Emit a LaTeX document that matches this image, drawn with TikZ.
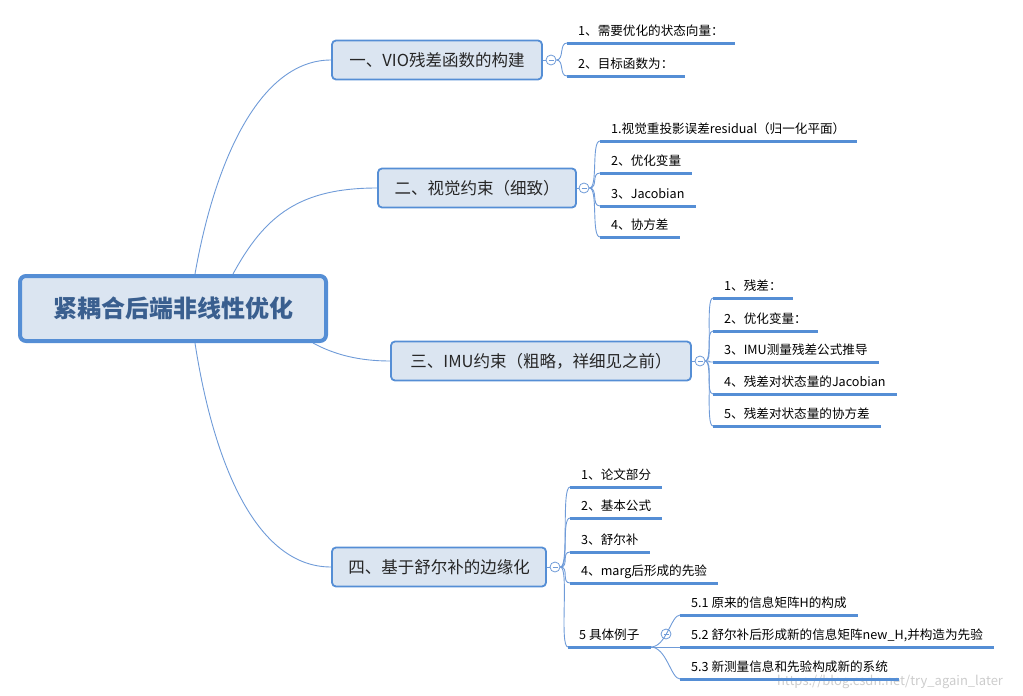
\documentclass[tikz,border=0pt]{standalone}
\usepackage{fontspec}
\setmainfont{Noto Sans CJK SC}

\definecolor{mapblue}{HTML}{558ED5}
\definecolor{boxfill}{HTML}{DBE5F1}
\definecolor{linkblue}{HTML}{6F9BD8}
\definecolor{roottext}{HTML}{3A5F8F}
\definecolor{branchtext}{HTML}{262626}

\begin{document}
\begin{tikzpicture}[
       x=1pt, y=-1pt,
       rootbox/.style={
         rectangle,
         rounded corners=6pt,
         draw=mapblue,
         line width=4pt,
         fill=boxfill,
         minimum width=306pt,
         minimum height=65pt,
         text=roottext,
         font=\fontsize{24}{28}\selectfont\bfseries
       },
       branchbox/.style={
         rectangle,
         rounded corners=4pt,
         draw=mapblue,
         line width=1.8pt,
         fill=boxfill,
         minimum height=39pt,
         text=branchtext,
         font=\fontsize{16.5}{20}\selectfont
       },
       leaf/.style={
         anchor=south west,
         inner xsep=11pt,
         inner ysep=4pt,
         text height=9.5pt,
         text depth=3pt,
         text=black,
         font=\fontsize{12.6}{15}\selectfont
       },
       uline/.style={draw=mapblue, line width=3pt},
       link/.style={draw=linkblue, line width=0.9pt},
       toggle/.style={
         circle,
         draw=linkblue,
         fill=white,
         line width=0.8pt,
         minimum size=10pt,
         inner sep=0pt,
         path picture={\draw[linkblue, line width=0.8pt]
           ([xshift=-2.5pt]path picture bounding box.center) --
           ([xshift=2.5pt]path picture bounding box.center);}
       }
     ]

       \useasboundingbox (0,0) rectangle (1023,696);

       \node (root) at (173,308.5) [rootbox]{紧耦合后端非线性优化};

       \node (b1) at (437,60) [branchbox,minimum width=210pt]{一、VIO残差函数的构建};
       \node (b2) at (477,188) [branchbox,minimum width=198pt]{二、视觉约束（细致）};
       \node (b3) at (541,361) [branchbox,minimum width=300pt]{三、IMU约束（粗略，祥细见之前）};
       \node (b4) at (439,567) [branchbox,minimum width=214pt]{四、基于舒尔补的边缘化};

       \node (c1) at (551,60) [toggle]{};
       \node (c2) at (584,188) [toggle]{};
       \node (c3) at (700,361) [toggle]{};
       \node (c4) at (555,567) [toggle]{};

       \node (l11) at (567,43) [leaf]{1、需要优化的状态向量：};
       \node (l12) at (567,76) [leaf]{2、目标函数为：};

       \node (l21) at (600,141) [leaf]{1.视觉重投影误差residual（归一化平面）};
       \node (l22) at (600,173) [leaf]{2、优化变量};
       \node (l23) at (600,206) [leaf]{3、Jacobian};
       \node (l24) at (600,237) [leaf]{4、协方差};

       \node (l31) at (713,298) [leaf]{1、残差：};
       \node (l32) at (713,331) [leaf]{2、优化变量：};
       \node (l33) at (713,362) [leaf]{3、IMU测量残差公式推导};
       \node (l34) at (713,394) [leaf]{4、残差对状态量的Jacobian};
       \node (l35) at (713,426) [leaf]{5、残差对状态量的协方差};

       \node (l41) at (570,487) [leaf]{1、论文部分};
       \node (l42) at (570,518) [leaf]{2、基本公式};
       \node (l43) at (570,552) [leaf]{3、舒尔补};
       \node (l44) at (570,583) [leaf]{4、marg后形成的先验};
       \node (l45) at (568,647) [leaf]{5 具体例子};

       \node (c5) at (666,634) [toggle]{};

       \node (l51) at (680,615) [leaf]{5.1 原来的信息矩阵H的构成};
       \node (l52) at (680,647) [leaf]{5.2 舒尔补后形成新的信息矩阵new\_H,并构造为先验};
       \node (l53) at (680,679) [leaf]{5.3 新测量信息和先验构成新的系统};

       \node (mark) at (890,682) [inner sep=0pt,text=black!20,font=\fontsize{13}{14}\selectfont]{https://blog.csdn.net/try\_again\_later};

       % root to branches
       \draw[link] ([xshift=22pt]root.north) .. controls (215,160) and (260,60) .. (b1.west);
       \draw[link] ([xshift=60pt]root.north) .. controls (265,215) and (300,188) .. (b2.west);
       \draw[link] ([xshift=140pt]root.south) .. controls (335,355) and (360,361) .. (b3.west);
       \draw[link] ([xshift=22pt]root.south) .. controls (213,460) and (255,567) .. (b4.west);

       \draw[link] (b1.east) -- (c1.west);
       \draw[link] (b2.east) -- (c2.west);
       \draw[link] (b3.east) -- (c3.west);
       \draw[link] (b4.east) -- (c4.west);

       % branches to leaves
       \foreach \l in {l11,l12}
         \draw[link] (c1.east) .. controls +(8,0) and +(-8,0) .. (\l.south west);
       \foreach \l in {l21,l22,l23,l24}
         \draw[link] (c2.east) .. controls +(9,0) and +(-9,0) .. (\l.south west);
       \foreach \l in {l31,l32,l33,l34,l35}
         \draw[link] (c3.east) .. controls +(8,0) and +(-8,0) .. (\l.south west);
       \foreach \l in {l41,l42,l43,l44,l45}
         \draw[link] (c4.east) .. controls +(9,0) and +(-9,0) .. (\l.south west);

       \draw[link] (l45.south east) -- (l52.south west);
       \draw[link] (l45.south east) .. controls +(16,0) and +(-9,0) .. (l51.south west);
       \draw[link] (l45.south east) .. controls +(16,0) and +(-9,0) .. (l53.south west);

       % underlines
       \foreach \l in {l11,l12,l21,l22,l23,l24,l31,l32,l33,l34,l35,l41,l42,l43,l44,l45,l51,l52,l53}
         \draw[uline] (\l.south west) -- (\l.south east);

\end{tikzpicture}
\end{document}
